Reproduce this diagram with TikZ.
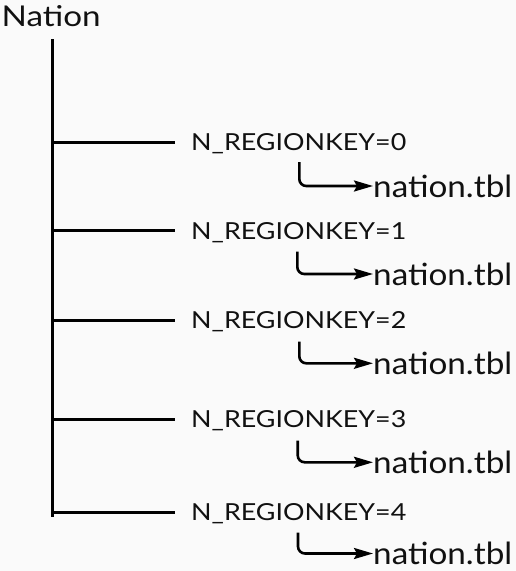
\documentclass[tikz,border=0pt]{standalone}
\usepackage{fontspec}
\setmainfont{Lato}
\usetikzlibrary{arrows.meta}
\definecolor{bgc}{RGB}{250,250,250}
\definecolor{inkc}{RGB}{17,17,17}
\newcommand{\fitbox}[3]{\resizebox{#1}{#2}{#3}}
\begin{document}
\begin{tikzpicture}[x=1pt,y=-1pt,
  trunkline/.style={line width=3pt,draw=black},
  branchline/.style={line width=3pt,draw=black},
  titlelabel/.style={inner sep=0pt,anchor=base west,text=inkc},
  keylabel/.style={inner sep=0pt,anchor=base west,text=inkc},
  filelabel/.style={inner sep=0pt,anchor=west,text=inkc},
  fileconn/.style={line width=2.6pt,draw=black,rounded corners=7pt,
    -{Stealth[length=19pt,width=11pt,inset=3pt]}}]
\fill[bgc] (0,0) rectangle (516,571);
\useasboundingbox (0,0) rectangle (516,571);
\node[titlelabel] (nation) at (1.5,26.7) {\fitbox{99pt}{21pt}{Nation}};
\coordinate (top) at (52,39);
\coordinate (bot) at (52,517);
\draw[trunkline] (top) -- (bot);
\foreach \i/\y/\lx/\sy/\hy in {0/142/299.3/162/186,1/230.7/297.3/251.7/274,2/320.3/299.3/341.7/363.3,3/419.3/297.7/440.7/462.3,4/512.3/298/532.7/553.5}{
  \coordinate (b\i) at (52,\y);
  \coordinate (e\i) at (175,\y);
  \draw[branchline] (b\i) -- (e\i);
  \node[keylabel] (l\i) at (191,\y+8.5) {\fitbox{215pt}{17pt}{N\_REGIONKEY=\i}};
  \coordinate (s\i) at (\lx,\sy);
  \node[filelabel] (f\i) at (373,\hy) {\fitbox{139pt}{22.5pt}{nation.tbl}};
  \draw[fileconn] (s\i) |- (f\i.west);
}
\end{tikzpicture}
\end{document}
